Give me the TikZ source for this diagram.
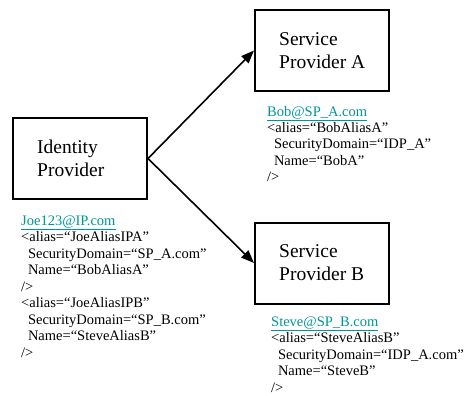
\documentclass[tikz,border=0pt]{standalone}
\usepackage{fontspec}
\setmainfont{Liberation Serif}
\usetikzlibrary{arrows.meta}
\definecolor{linkteal}{RGB}{0,150,150}
\newcommand{\maillink}[1]{\textcolor{linkteal}{\underline{#1}}}
\newcommand{\ind}{\hspace*{6.8pt}}
\tikzset{
  provider/.style={draw=black, line width=2pt, minimum width=134pt, minimum height=81pt, inner sep=0pt},
  boxtext/.style={anchor=west, align=left, inner sep=0pt, font=\fontsize{19.5}{23}\selectfont},
  % records are placed by the baseline of their last line
  record/.style={anchor=base west, align=left, inner sep=0pt, font=\fontsize{14.5}{16.5}\selectfont},
  flow/.style={line width=1.6pt, -{Triangle[length=13pt, width=10pt]}}
}
\begin{document}
\begin{tikzpicture}[x=1pt, y=-1pt]
  \useasboundingbox (0,0) rectangle (464,396);

  % the three parties
  \node[provider] (idp) at (80,158.5) {};
  \node[provider] (spa) at (322,50.5) {};
  \node[provider] (spb) at (322,263) {};

  \node[boxtext] (idptext) at ([xshift=25pt]idp.west) {Identity\\Provider};
  \node[boxtext] (spatext) at ([xshift=25pt]spa.west) {Service\\Provider A};
  \node[boxtext] (spbtext) at ([xshift=25pt]spb.west) {Service\\Provider B};

  % federation links
  \draw[flow] (idp.east) -- (spa.west);
  \draw[flow] (idp.east) -- (spb.west);

  % account and alias records
  \node[record] (idprec) at (21,357) {\maillink{Joe123@IP.com}\\
    <alias=“JoeAliasIPA”\\
    \ind SecurityDomain=“SP\_A.com”\\
    \ind Name=“BobAliasA”\\
    />\\
    <alias=“JoeAliasIPB”\\
    \ind SecurityDomain=“SP\_B.com”\\
    \ind Name=“SteveAliasB”\\
    />};

  \node[record] (sparec) at (267,182) {\maillink{Bob@SP\_A.com}\\
    <alias=“BobAliasA”\\
    \ind SecurityDomain=“IDP\_A”\\
    \ind Name=“BobA”\\
    />};

  \node[record] (spbrec) at (271,392) {\maillink{Steve@SP\_B.com}\\
    <alias=“SteveAliasB”\\
    \ind SecurityDomain=“IDP\_A.com”\\
    \ind Name=“SteveB”\\
    />};
\end{tikzpicture}
\end{document}
